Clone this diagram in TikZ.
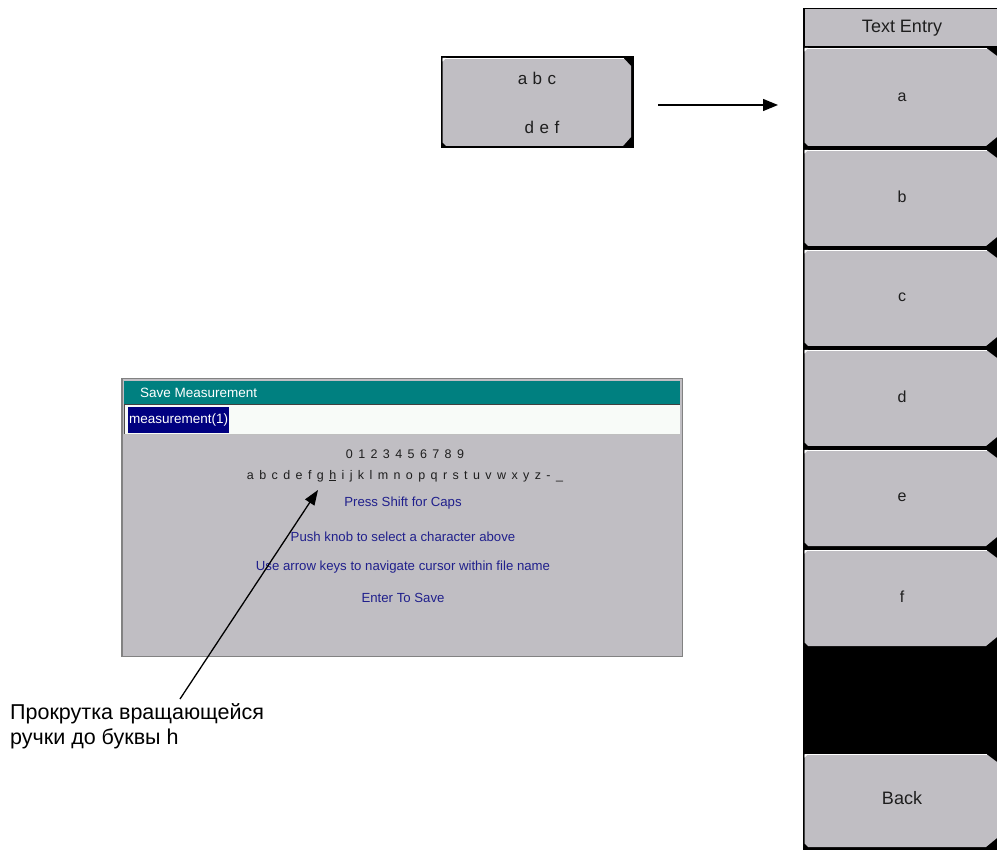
\documentclass[tikz,border=0pt]{standalone}
\usepackage{fontspec}
\setmainfont{Liberation Sans}
\usetikzlibrary{arrows.meta}
\definecolor{btngrey}{RGB}{192,190,195}
\definecolor{tealbar}{RGB}{0,128,128}
\definecolor{fieldwhite}{RGB}{248,251,248}
\definecolor{selnavy}{RGB}{0,0,128}
\definecolor{hintblue}{RGB}{32,32,140}
\definecolor{dlgedge}{RGB}{130,130,130}
\definecolor{txtdark}{RGB}{30,30,30}
\newcommand\widesp[1]{\spaceskip=#1\relax}
% soft key drawing: x1 y1 x2 y2 right-inset
\newcommand\drawsoftkey[5]{%
  \fill[black] (#1,#2) rectangle (#3,#4);
  \fill[btngrey] ({#1+1.5},{#2+2.5}) -- ({#3-10},{#2+2.5}) -- ({#3-#5},{#2+10}) -- ({#3-#5},{#4-11}) -- ({#3-11},{#4-2}) -- ({#1+5},{#4-2}) -- ({#1+1.5},{#4-5.5}) -- cycle;
  \draw[white,line width=1.2pt] ({#1+4},{#2+2.6}) -- ({#3-10},{#2+2.6});
  \fill[white] ({#1+1.5},{#2+2}) -- ({#1+5},{#2+2}) -- ({#1+1.5},{#2+5.5}) -- cycle;
}
\tikzset{
  keylabel/.style={font={\fontsize{16}{18}\selectfont}, text=txtdark, inner sep=0pt},
  bigkey/.style={keylabel, font={\fontsize{18}{20}\selectfont}},
  abckey/.style={keylabel, font={\fontsize{17}{19}\selectfont\widesp{5.5pt}}},
  dlgtext/.style={font={\fontsize{12.5}{14}\selectfont\widesp{5.4pt}}, text=txtdark, inner sep=0pt},
  hinttext/.style={font={\fontsize{13.2}{15}\selectfont}, text=hintblue, inner sep=0pt},
  pointer/.style={line width=1.3pt, -{Triangle[length=15pt,width=12pt]}},
}
\begin{document}
\begin{tikzpicture}[x=1pt,y=-1pt]
\useasboundingbox (0,0) rectangle (997,850);
\fill[white] (0,0) rectangle (997,850);

% ---- small soft key "abc def"
\drawsoftkey{441}{56}{634}{148}{3}
\node[abckey] (abc) at (537,78) {a b c};
\node[abckey] (def) at (542,127) {d e f};
\coordinate (arrS) at (658,105);
\coordinate (arrE) at (778,105);
\draw[pointer] (arrS) -- (arrE);

% ---- right menu panel
\fill[black] (803,46) rectangle (997,850);
\fill[btngrey] (803,8) rectangle (997,46);
\draw[black,line width=1.5pt] (803.75,46) -- (803.75,8.75) -- (997,8.75);
\node[bigkey] (title) at (902,28) {Text Entry};
\drawsoftkey{803}{46}{997}{148}{0}
\drawsoftkey{803}{148}{997}{248}{0}
\drawsoftkey{803}{248}{997}{348}{0}
\drawsoftkey{803}{348}{997}{448}{0}
\drawsoftkey{803}{448}{997}{548}{0}
\drawsoftkey{803}{548}{997}{648}{0}
\drawsoftkey{803}{752}{997}{849}{0}
\node[keylabel] (ka) at (902,97) {a};
\node[keylabel] (kb) at (902,197) {b};
\node[keylabel] (kc) at (902,297) {c};
\node[keylabel] (kd) at (902,397) {d};
\node[keylabel] (ke) at (902,497) {e};
\node[keylabel] (kf) at (902,597) {f};
\node[bigkey] (kback) at (902,798) {Back};

% ---- dialog
\fill[btngrey] (121,378) rectangle (683,657);
\draw[dlgedge,line width=1.5pt] (121.75,378.75) rectangle (682.25,656.25);
\fill[tealbar] (124,381) rectangle (680,404);
\draw[black!75,line width=1.5pt] (124,404.75) -- (680,404.75);
\fill[fieldwhite] (124,405.5) rectangle (680,435);
\draw[black!70,line width=1pt] (124.5,435) -- (124.5,405.5);
\draw[black!25,line width=1pt] (124,435) -- (680,435);
\fill[selnavy] (128,407) rectangle (229,433);
\node[anchor=west, inner sep=0pt, text=white, font={\fontsize{13.5}{15}\selectfont}] (dtitle) at (140,392.5) {Save Measurement};
\node[anchor=west, inner sep=0pt, text=white, font={\fontsize{13.5}{15}\selectfont}] (fname) at (129,420) {measurement(1)};
\node[dlgtext] (digits) at (405,454) {0 1 2 3 4 5 6 7 8 9};
\node[dlgtext] (alpha) at (405,476) {a b c d e f g \underline{h} i j k l m n o p q r s t u v w x y z - \_};
\node[hinttext] (hint1) at (403,503) {Press Shift for Caps};
\node[hinttext] (hint2) at (403,537) {Push knob to select a character above};
\node[hinttext] (hint3) at (403,567) {Use arrow keys to navigate cursor within file name};
\node[hinttext] (hint4) at (403,598) {Enter To Save};

% ---- knob annotation
\node[anchor=north west, align=left, inner sep=0pt, font={\fontsize{21.5}{25}\selectfont}] (knoblabel) at (10,703) {Прокрутка вращающейся\\ручки до буквы h};
\coordinate (knobS) at (180,699);
\coordinate (knobT) at (318,490);
\draw[line width=1.3pt, -{Triangle[length=15pt,width=11pt]}] (knobS) -- (knobT);
\end{tikzpicture}
\end{document}
